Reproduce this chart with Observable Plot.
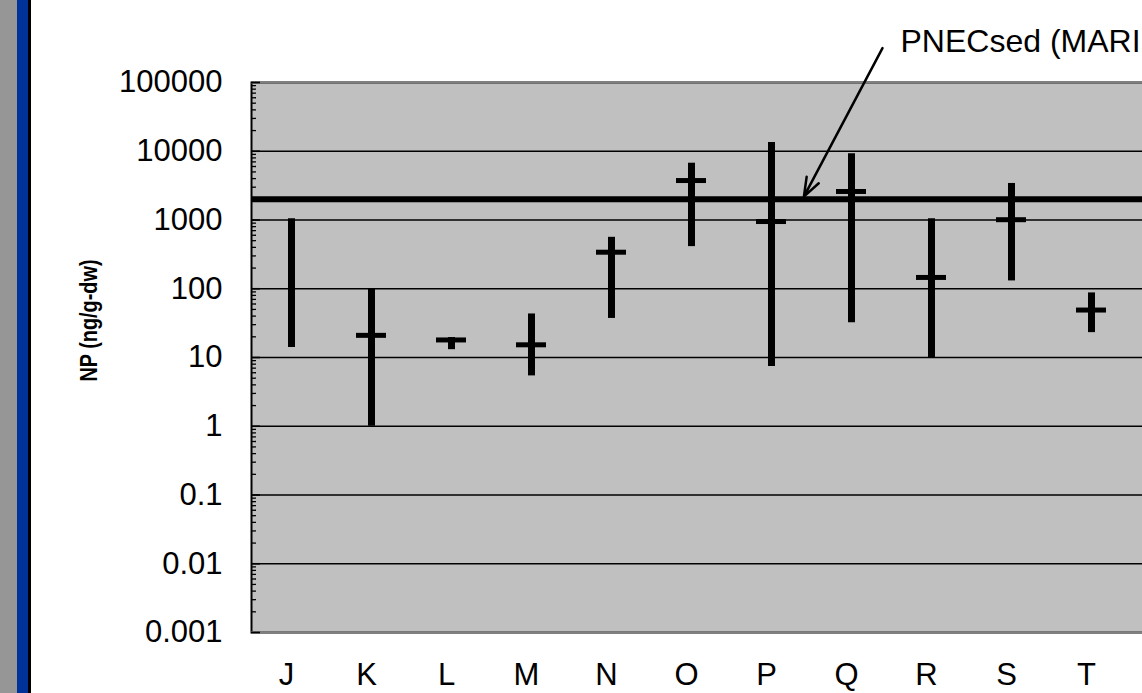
<!DOCTYPE html>
<html>
<head>
<meta charset="utf-8">
<script src="https://cdn.jsdelivr.net/npm/d3@7"></script>
<script src="https://cdn.jsdelivr.net/npm/@observablehq/plot@0.6"></script>
<style>
  html, body { margin: 0; padding: 0; background: white; overflow: hidden; width: 1142px; height: 693px; }
  #wrap { position: relative; width: 1142px; height: 693px; overflow: hidden; }
  #strip { position: absolute; left: 0; top: 0; width: 31px; height: 693px; display: flex; z-index: 2; }
  #strip .g { width: 17px; background: #969696; }
  #strip .b { width: 11px; background: #003399; }
  #strip .k { width: 3px; background: #000; }
  #chart { position: absolute; left: 0; top: 0; }
  #chart svg { max-width: none !important; height: 693px !important; }
</style>
</head>
<body>
<div id="wrap">
  <div id="chart"></div>
  <div id="strip"><div class="g"></div><div class="b"></div><div class="k"></div></div>
</div>
<script>
// ---- data ----
const categories = ["J", "K", "L", "M", "N", "O", "P", "Q", "R", "S", "T"];
const minValues  = [14, 1, 13, 5.4, 37, 410, 7.4, 32, 10, 130, 23];
const maxValues  = [1040, 98, 19.5, 43, 560, 6700, 13400, 9200, 1040, 3400, 87];
const meanValues = [null, 21, 18, 15.3, 340, 3750, 950, 2600, 146, 1010, 49];

const pnecValue = 2000;
const pnecLabel = "PNECsed (MARI";
const yTitle = "NP (ng/g-dw)";

const yTickValues = [0.001, 0.01, 0.1, 1, 10, 100, 1000, 10000, 100000];
const yTickLabels = ["0.001", "0.01", "0.1", "1", "10", "100", "1000", "10000", "100000"];
const gridValues = [0.01, 0.1, 1, 10, 100, 1000, 10000];

// annotation: arrow from label (between Q and P, above plot) to PNEC line
const annotation = [{from: "Q", to: "P", fromValue: 316000, toValue: pnecValue, text: pnecLabel}];

// minor tick positions (2..9 of each decade)
const minorTicks = [];
for (let e = -3; e < 5; e++) for (let k = 2; k <= 9; k++) minorTicks.push(k * Math.pow(10, e));

const data = categories.map((c, i) => ({cat: c, min: minValues[i], max: maxValues[i], mean: meanValues[i]}));
const labelOf = v => yTickLabels[yTickValues.findIndex(t => Math.abs(Math.log10(t) - Math.log10(v)) < 1e-9)];

const W = 1160, ML = 251;
const frameW = W - ML;

const chart = Plot.plot({
  width: W,
  height: 693,
  marginLeft: ML,
  marginRight: 0,
  marginTop: 82,
  marginBottom: 61,
  style: {fontFamily: "Arial, 'Liberation Sans', sans-serif", background: "transparent", color: "black", overflow: "visible", maxWidth: "none"},
  x: {type: "band", domain: categories, range: [251, 1131], padding: 0, axis: null},
  y: {type: "log", domain: [0.001, 100000], axis: null},
  marks: [
    Plot.frame({fill: "#c0c0c0", stroke: "black", strokeWidth: 2}),
    Plot.ruleY(gridValues, {stroke: "black", strokeWidth: 1.7}),
    Plot.ruleY([100000], {stroke: "#808080", strokeWidth: 2}),
    Plot.ruleY([0.001], {stroke: "#808080", strokeWidth: 2.5}),
    // inner ticks on left axis
    Plot.tickY(yTickValues, {y: d => d, insetRight: frameW - 9, stroke: "black", strokeWidth: 1.6}),
    Plot.tickY(minorTicks, {y: d => d, insetRight: frameW - 5, stroke: "black", strokeWidth: 1.3}),
    // tick labels
    Plot.axisY(yTickValues, {tickSize: 0, tickPadding: 29, fontSize: 31, tickFormat: labelOf, label: null}),
    Plot.axisX({tickSize: 0, tickPadding: 30, fontSize: 31, dx: -5, label: null}),
    // PNEC line
    Plot.ruleY([pnecValue], {stroke: "black", strokeWidth: 6}),
    // range bars and means
    Plot.ruleX(data, {x: "cat", y1: "min", y2: "max", stroke: "black", strokeWidth: 7}),
    Plot.tickY(data.filter(d => d.mean != null), {x: "cat", y: "mean", stroke: "black", strokeWidth: 5, inset: 25}),
    // annotation
    Plot.arrow(annotation, {x1: "from", y1: "fromValue", x2: "to", y2: "toValue", dx: 31, stroke: "black", strokeWidth: 2.5, headLength: 12, headAngle: 40, insetEnd: 3}),
    Plot.text(annotation, {x: "from", y: "fromValue", text: "text", dx: 49, dy: 4, textAnchor: "start", lineAnchor: "bottom", fontSize: 32, fill: "black"}),
    // y title
    Plot.text([yTitle], {frameAnchor: "left", textAnchor: "middle", rotate: -90, dx: -162, dy: -37, fontWeight: "bold", fontSize: 24, fill: "black"})
  ]
});
// the reference's lettering is slightly stretched across; condense the rotated title along its length
d3.select(chart).selectAll("text").filter(function() { return this.textContent === yTitle; })
  .attr("textLength", 122).attr("lengthAdjust", "spacingAndGlyphs");
document.getElementById("chart").appendChild(chart);
</script>
</body>
</html>
